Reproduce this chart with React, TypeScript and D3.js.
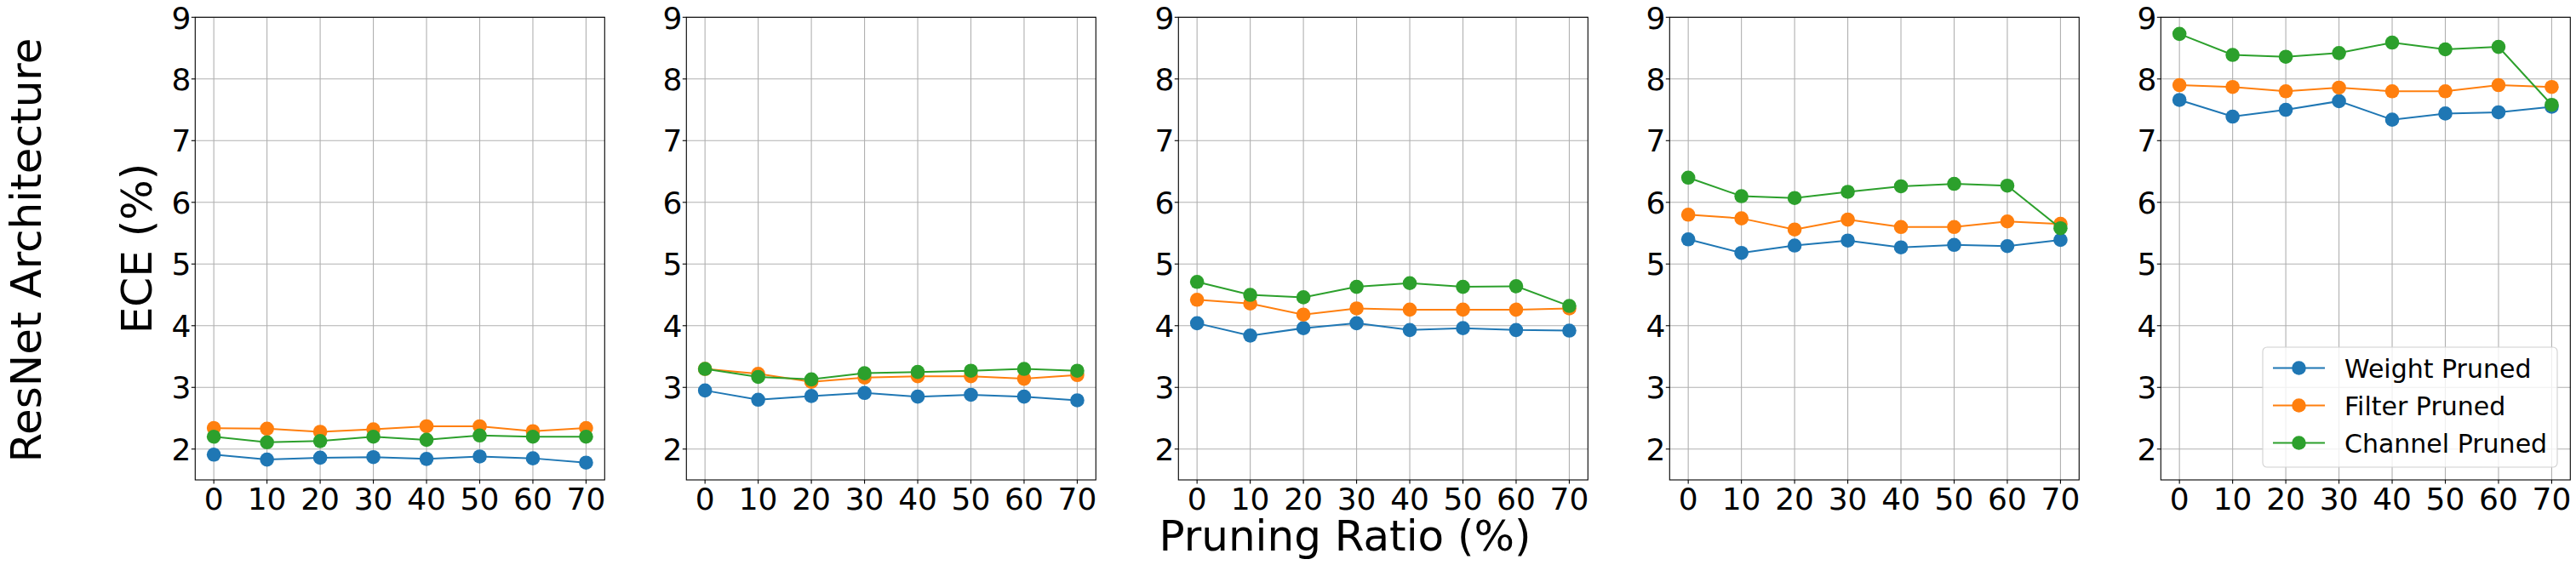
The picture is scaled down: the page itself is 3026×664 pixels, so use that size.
import React from "react";
import * as d3 from "d3";

const ratios = [0, 10, 20, 30, 40, 50, 60, 70];
const yTicks = [2, 3, 4, 5, 6, 7, 8, 9];
const seriesNames = ["Weight Pruned", "Filter Pruned", "Channel Pruned"];
const colors = ["#1f77b4", "#ff7f0e", "#2ca02c"];

const weightPruned = [
  [1.91, 1.83, 1.86, 1.87, 1.84, 1.88, 1.85, 1.78],
  [2.95, 2.8, 2.86, 2.91, 2.85, 2.88, 2.85, 2.79],
  [4.04, 3.84, 3.96, 4.04, 3.93, 3.96, 3.93, 3.92],
  [5.4, 5.18, 5.3, 5.38, 5.27, 5.31, 5.29, 5.39],
  [7.66, 7.39, 7.5, 7.64, 7.34, 7.44, 7.46, 7.55],
];
const filterPruned = [
  [2.34, 2.33, 2.28, 2.32, 2.37, 2.37, 2.29, 2.34],
  [3.3, 3.22, 3.09, 3.16, 3.18, 3.18, 3.14, 3.2],
  [4.42, 4.36, 4.18, 4.28, 4.26, 4.26, 4.26, 4.28],
  [5.8, 5.74, 5.56, 5.72, 5.6, 5.6, 5.69, 5.65],
  [7.9, 7.87, 7.8, 7.86, 7.8, 7.8, 7.9, 7.87],
];
const channelPruned = [
  [2.2, 2.11, 2.13, 2.2, 2.15, 2.22, 2.2, 2.2],
  [3.3, 3.17, 3.13, 3.23, 3.25, 3.27, 3.3, 3.27],
  [4.71, 4.5, 4.46, 4.63, 4.69, 4.63, 4.64, 4.32],
  [6.4, 6.1, 6.07, 6.17, 6.26, 6.3, 6.27, 5.58],
  [8.73, 8.39, 8.36, 8.42, 8.59, 8.48, 8.52, 7.58],
];

const W = 3026;
const H = 664;
const panelLefts = [229.3, 806.3, 1384.3, 1961.3, 2538.3];
const panelW = 481;
const top = 20.3;
const bottom = 564;
const font = "DejaVu Sans, sans-serif";

function Panel({ idx }: { idx: number }) {
  const left = panelLefts[idx];
  const x = d3.scaleLinear().domain([-3.5, 73.5]).range([left, left + panelW]);
  const y = d3.scaleLinear().domain([1.5, 9]).range([bottom, top]);
  const all = [weightPruned[idx], filterPruned[idx], channelPruned[idx]];
  const line = d3
    .line<number>()
    .x((_, i) => x(ratios[i]))
    .y((d) => y(d));
  return (
    <g>
      {ratios.map((r) => (
        <line key={"gx" + r} x1={x(r)} x2={x(r)} y1={top} y2={bottom} stroke="#b0b0b0" strokeWidth={1.1} />
      ))}
      {yTicks.map((t) => (
        <line key={"gy" + t} x1={left} x2={left + panelW} y1={y(t)} y2={y(t)} stroke="#b0b0b0" strokeWidth={1.1} />
      ))}
      {all.map((vals, s) => (
        <g key={"s" + s}>
          <path d={line(vals) || ""} fill="none" stroke={colors[s]} strokeWidth={2} />
          {vals.map((v, i) => (
            <circle key={i} cx={x(ratios[i])} cy={y(v)} r={8.3} fill={colors[s]} />
          ))}
        </g>
      ))}
      <rect x={left} y={top} width={panelW} height={bottom - top} fill="none" stroke="#000" strokeWidth={1.1} />
      {ratios.map((r) => (
        <g key={"xt" + r}>
          <line x1={x(r)} x2={x(r)} y1={bottom} y2={bottom + 4.5} stroke="#000" strokeWidth={1.1} />
          <text x={x(r)} y={599} textAnchor="middle" fontSize={36} fontFamily={font} fill="#000">
            {r}
          </text>
        </g>
      ))}
      {yTicks.map((t) => (
        <g key={"yt" + t}>
          <line x1={left - 4.5} x2={left} y1={y(t)} y2={y(t)} stroke="#000" strokeWidth={1.1} />
          <text x={left - 5} y={y(t) + 13.2} textAnchor="end" fontSize={36} fontFamily={font} fill="#000">
            {t}
          </text>
        </g>
      ))}
    </g>
  );
}

function Legend() {
  const lx = 2658;
  const ly = 408;
  const rows = [432.5, 476.5, 520.5];
  return (
    <g>
      <rect x={lx} y={ly} width={346} height={141} rx={5} fill="#fff" fillOpacity={0.8} stroke="#d0d0d0" strokeWidth={1.1} />
      {seriesNames.map((n, i) => (
        <g key={n}>
          <line x1={2670} x2={2731} y1={rows[i]} y2={rows[i]} stroke={colors[i]} strokeWidth={2} />
          <circle cx={2700.5} cy={rows[i]} r={8.3} fill={colors[i]} />
          <text x={2754} y={rows[i] + 11} fontSize={30} fontFamily={font} fill="#000">
            {n}
          </text>
        </g>
      ))}
    </g>
  );
}

export default function App() {
  return (
    <svg
      width={W}
      height={H}
      viewBox={`0 0 ${W} ${H}`}
      style={{ position: "absolute", left: 0, top: 0, background: "#fff" }}
    >
      <rect x={0} y={0} width={W} height={H} fill="#fff" />
      {panelLefts.map((_, i) => (
        <Panel key={i} idx={i} />
      ))}
      <Legend />
      <text
        transform={`translate(178, 292) rotate(-90)`}
        textAnchor="middle"
        fontSize={50}
        fontFamily={font}
        fill="#000"
      >
        ECE (%)
      </text>
      <text
        transform={`translate(48, 294) rotate(-90)`}
        textAnchor="middle"
        fontSize={50}
        fontFamily={font}
        fill="#000"
      >
        ResNet Architecture
      </text>
      <text x={1580} y={647} textAnchor="middle" fontSize={50} fontFamily={font} fill="#000">
        Pruning Ratio (%)
      </text>
    </svg>
  );
}
